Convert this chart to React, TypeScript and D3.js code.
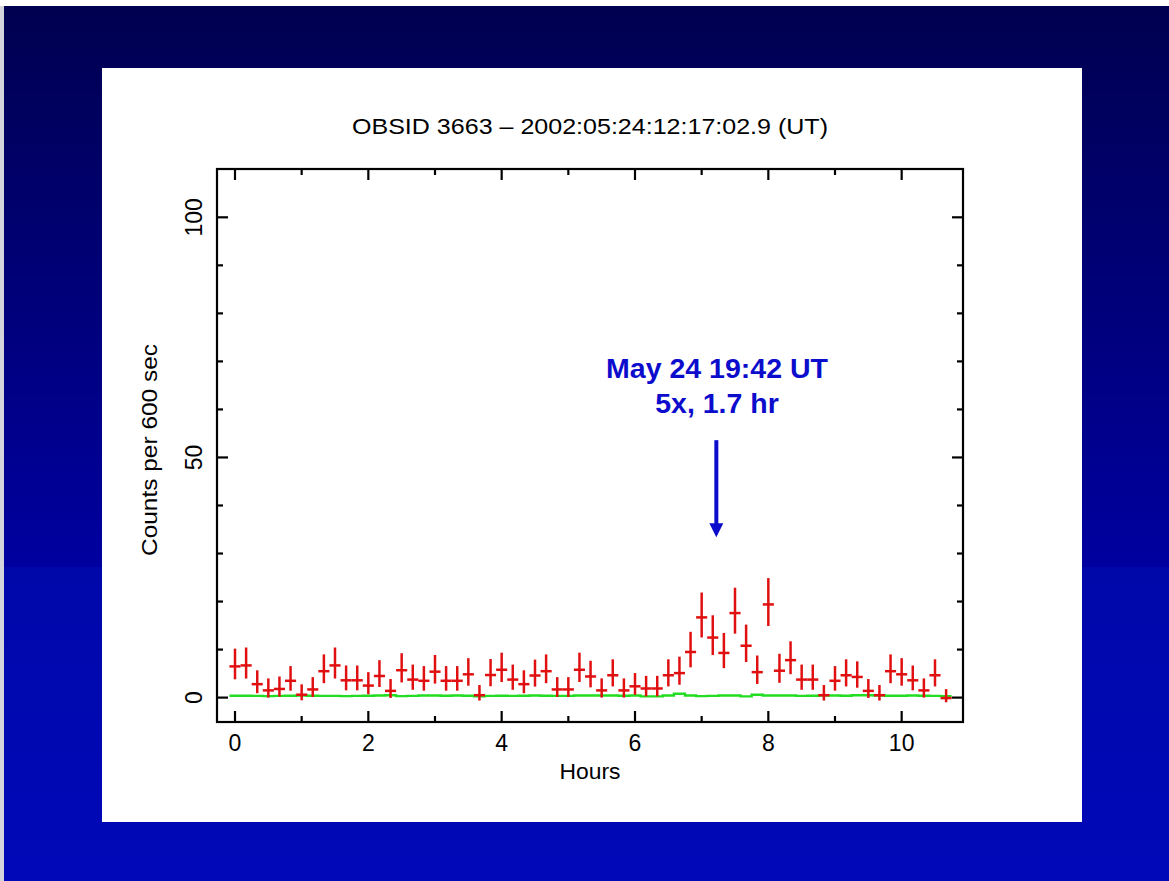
import React from "react";
import * as d3 from "d3";

// ---- data ----
const BIN_HOURS = 600 / 3600; // 600 s bins
const counts: number[] = [
  6.5, 6.7, 2.8, 1.5, 1.8, 3.5, 0.6, 1.7, 5.5, 6.7, 3.6, 3.6, 2.5, 4.5, 1.4, 5.7,
  3.75, 3.5, 5.4, 3.5, 3.5, 4.85, 0.5, 4.7, 5.8, 3.75, 2.8, 4.6, 5.5, 1.7, 1.7, 5.8,
  4.4, 1.5, 4.65, 1.5, 2.35, 1.9, 1.9, 4.65, 5.1, 9.5, 16.7, 12.5, 9.3, 17.6, 10.8, 5.3,
  19.4, 5.6, 7.8, 3.75, 3.75, 0.5, 3.5, 4.65, 4.3, 1.4, 0.5, 5.5, 4.85, 3.6, 1.5, 4.65,
  -0.1,
];
const background: number[] = [
  0.4, 0.4, 0.35, 0.3, 0.35, 0.4, 0.45, 0.4, 0.35, 0.35, 0.3, 0.35, 0.4, 0.45, 0.5, 0.3,
  0.35, 0.45, 0.45, 0.4, 0.45, 0.4, 0.25, 0.35, 0.4, 0.35, 0.4, 0.45, 0.4, 0.35, 0.35, 0.45,
  0.45, 0.45, 0.45, 0.4, 0.45, 0.25, 0.25, 0.45, 0.8, 0.45, 0.3, 0.35, 0.45, 0.45, 0.25, 0.6,
  0.45, 0.45, 0.45, 0.35, 0.4, 0.45, 0.45, 0.4, 0.5, 0.5, 0.45, 0.4, 0.4, 0.45, 0.4, 0.35,
  0.3,
];
const xMajorTicks = [0, 2, 4, 6, 8, 10];
const xMinorTicks = [1, 3, 5, 7, 9];
const yMajorTicks = [0, 50, 100];
const yMinorTicks = [10, 20, 30, 40, 60, 70, 80, 90];
const titleText = "OBSID 3663 \u2013 2002:05:24:12:17:02.9 (UT)";
const xLabel = "Hours";
const yLabel = "Counts per 600 sec";
const noteLines = ["May 24 19:42 UT", "5x, 1.7 hr"];
const noteHour = 7.22;
const arrowFrom = 53.6;
const arrowTo = 33.4;

const W = 1169;
const H = 881;
const PL = 217, PR = 963, PT = 169, PB = 722;

export default function App() {
  const x = d3.scaleLinear().domain([-0.27, 10.92]).range([PL, PR]);
  const y = d3.scaleLinear().domain([-5.08, 110.06]).range([PB, PT]);
  const half = BIN_HOURS / 2;
  const pts = counts.map((v, i) => ({
    t: i * BIN_HOURS,
    v,
    up: 1 + Math.sqrt(Math.max(v, 0) + 0.75),
    dn: Math.sqrt(Math.max(v, 0) + 0.75),
  }));
  const bgPts: [number, number][] = background.map((b, i) => [i * BIN_HOURS - half, b]);
  bgPts.push([(background.length - 1) * BIN_HOURS + half, background[background.length - 1]]);
  const bgLine = d3
    .line<[number, number]>()
    .x((d) => x(d[0]))
    .y((d) => y(d[1]))
    .curve(d3.curveStepAfter);

  const font = "'Liberation Sans', Arial, Helvetica, sans-serif";
  const majLen = 11, minLen = 6;
  const ax = x(noteHour);

  return (
    <svg
      width={W}
      height={H}
      style={{ position: "absolute", left: 0, top: 0, display: "block" }}
    >
      <defs>
        <linearGradient id="bgTop" x1="0" y1="0" x2="0" y2="1">
          <stop offset="0" stopColor="#000050" />
          <stop offset="1" stopColor="#0000a0" />
        </linearGradient>
        <linearGradient id="bgBot" x1="0" y1="0" x2="0" y2="1">
          <stop offset="0" stopColor="#0008aa" />
          <stop offset="1" stopColor="#0008b8" />
        </linearGradient>
      </defs>
      <rect x={0} y={0} width={W} height={H} fill="#ffffff" />
      <rect x={4} y={6} width={W - 4} height={561} fill="url(#bgTop)" />
      <rect x={4} y={567} width={W - 4} height={H - 567} fill="url(#bgBot)" />
      <rect x={0} y={6} width={4} height={H - 6} fill="#d4d4dc" />
      {/* white plot panel */}
      <rect x={102} y={68} width={980} height={754} fill="#ffffff" />

      {/* title */}
      <text
        x={590}
        y={134}
        textAnchor="middle"
        fontFamily={font}
        fontSize={22.5}
        textLength={476}
        lengthAdjust="spacingAndGlyphs"
        fill="#000"
      >
        {titleText}
      </text>

      {/* background (green) */}
      <path d={bgLine(bgPts) || ""} fill="none" stroke="#22dd22" strokeWidth={2.4} />

      {/* source (red crosses) */}
      <g stroke="#e01010" strokeWidth={2.5}>
        {pts.map((p, i) => (
          <g key={i}>
            <line x1={x(p.t - half)} x2={x(p.t + half)} y1={y(p.v)} y2={y(p.v)} />
            <line x1={x(p.t)} x2={x(p.t)} y1={y(p.v + p.up)} y2={y(p.v - p.dn)} />
          </g>
        ))}
      </g>

      {/* frame */}
      <rect x={PL} y={PT} width={PR - PL} height={PB - PT} fill="none" stroke="#000" strokeWidth={2.2} />
      <g stroke="#000" strokeWidth={2.2}>
        {xMajorTicks.map((t) => (
          <g key={"xm" + t}>
            <line x1={x(t)} x2={x(t)} y1={PB} y2={PB - majLen} />
            <line x1={x(t)} x2={x(t)} y1={PT} y2={PT + majLen} />
          </g>
        ))}
        {xMinorTicks.map((t) => (
          <g key={"xn" + t}>
            <line x1={x(t)} x2={x(t)} y1={PB} y2={PB - minLen} />
            <line x1={x(t)} x2={x(t)} y1={PT} y2={PT + minLen} />
          </g>
        ))}
        {yMajorTicks.map((t) => (
          <g key={"ym" + t}>
            <line x1={PL} x2={PL + majLen} y1={y(t)} y2={y(t)} />
            <line x1={PR} x2={PR - majLen} y1={y(t)} y2={y(t)} />
          </g>
        ))}
        {yMinorTicks.map((t) => (
          <g key={"yn" + t}>
            <line x1={PL} x2={PL + minLen} y1={y(t)} y2={y(t)} />
            <line x1={PR} x2={PR - minLen} y1={y(t)} y2={y(t)} />
          </g>
        ))}
      </g>

      {/* tick labels */}
      <g fontFamily={font} fontSize={23} fill="#000">
        {xMajorTicks.map((t) => (
          <text key={"xl" + t} x={x(t)} y={751} textAnchor="middle">
            {t}
          </text>
        ))}
        {yMajorTicks.map((t) => (
          <text
            key={"yl" + t}
            textAnchor="middle"
            transform={`translate(202,${y(t)}) rotate(-90)`}
          >
            {t}
          </text>
        ))}
      </g>

      {/* axis labels */}
      <text
        x={590}
        y={779}
        textAnchor="middle"
        fontFamily={font}
        fontSize={22}
        textLength={61}
        lengthAdjust="spacingAndGlyphs"
      >
        {xLabel}
      </text>
      <text
        textAnchor="middle"
        fontFamily={font}
        fontSize={22}
        textLength={212}
        lengthAdjust="spacingAndGlyphs"
        transform={`translate(157,450) rotate(-90)`}
      >
        {yLabel}
      </text>

      {/* annotation */}
      <g fontFamily={font} fontWeight="bold" fontSize={28.5} fill="#0c0ccc" textAnchor="middle">
        <text x={717} y={378}>{noteLines[0]}</text>
        <text x={717} y={413}>{noteLines[1]}</text>
      </g>
      <line x1={ax} x2={ax} y1={y(arrowFrom)} y2={y(arrowTo) - 13} stroke="#0c0ccc" strokeWidth={4} />
      <path
        d={`M${ax - 7},${y(arrowTo) - 14} L${ax + 7},${y(arrowTo) - 14} L${ax},${y(arrowTo)} Z`}
        fill="#0c0ccc"
      />
    </svg>
  );
}
